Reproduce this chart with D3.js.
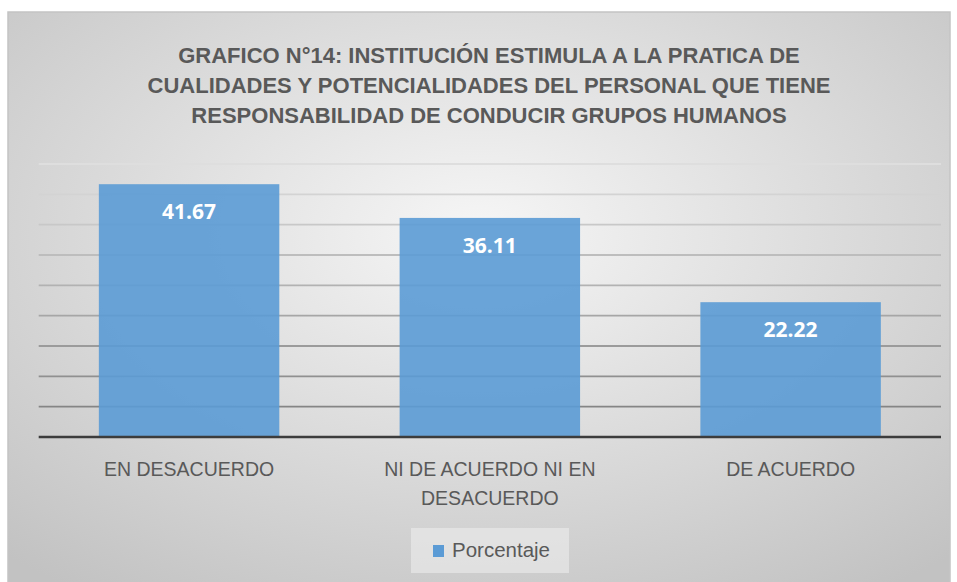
<!DOCTYPE html>
<html><head><meta charset="utf-8">
<script src="https://cdn.jsdelivr.net/npm/d3@7"></script>
<style>body{margin:0;background:#fff}svg{display:block}</style>
</head><body>
<svg id="c" width="957" height="582"></svg>
<script>
const categories = [["EN DESACUERDO"], ["NI DE ACUERDO NI EN", "DESACUERDO"], ["DE ACUERDO"]];
const values = [41.67, 36.11, 22.22];
const seriesName = "Porcentaje";
const titleLines = ["GRAFICO N°14: INSTITUCIÓN ESTIMULA A LA PRATICA DE",
  "CUALIDADES Y POTENCIALIDADES DEL PERSONAL QUE TIENE",
  "RESPONSABILIDAD DE CONDUCIR GRUPOS HUMANOS"];
const yTicks = [0,5,10,15,20,25,30,35,40,45];

const svg = d3.select("#c");
const font = "'Liberation Sans', Arial, sans-serif";
const defs = svg.append("defs");
const rg = defs.append("radialGradient").attr("id","bg").attr("cx","50%").attr("cy","38%").attr("r","75%");
rg.append("stop").attr("offset","0%").attr("stop-color","#f6f6f6");
rg.append("stop").attr("offset","100%").attr("stop-color","#c2c2c2");

svg.append("rect").attr("x",8).attr("y",12).attr("width",942).attr("height",580)
  .attr("fill","url(#bg)").attr("stroke","#c4c4c4").attr("stroke-width",1.5);

const x = d3.scaleBand().domain(d3.range(values.length)).range([38.7, 941]).paddingInner(0.4).paddingOuter(0.2);
const y = d3.scaleLinear().domain([0,45]).range([437,164]);
const gc = d3.scaleLinear().domain([5,45]).range(["#858585","#dedede"]);

// gridlines
svg.append("g").selectAll("line").data(yTicks.filter(t=>t>0)).join("line")
  .attr("x1",38.7).attr("x2",941).attr("y1",d=>y(d)).attr("y2",d=>y(d))
  .attr("stroke",d=>gc(d)).attr("stroke-width",1.8);

// bars
svg.append("g").selectAll("rect").data(values).join("rect")
  .attr("x",(d,i)=>x(i)).attr("width",x.bandwidth())
  .attr("y",d=>y(d)).attr("height",d=>y(0)-y(d))
  .attr("fill","#5b9bd5").attr("fill-opacity",0.9);

// baseline
svg.append("line").attr("x1",38.7).attr("x2",941).attr("y1",y(0)).attr("y2",y(0))
  .attr("stroke","#3c3c3c").attr("stroke-width",2.5);

// value labels
svg.append("g").selectAll("text").data(values).join("text")
  .attr("x",(d,i)=>x(i)+x.bandwidth()/2).attr("y",d=>y(d)+35)
  .attr("text-anchor","middle").attr("fill","#fff").attr("font-weight","bold")
  .attr("font-family","'Open Sans', sans-serif").attr("font-size",21)
  .text(d=>d.toFixed(2));

// category labels
const cl = svg.append("g").selectAll("text").data(categories).join("text")
  .attr("text-anchor","middle").attr("fill","#595959")
  .attr("font-family",font).attr("font-size",19.5);
cl.each(function(lines,i){
  d3.select(this).selectAll("tspan").data(lines).join("tspan")
    .attr("x",x(i)+x.bandwidth()/2).attr("y",(l,j)=>476+j*29).text(l=>l);
});

// title
svg.append("g").selectAll("text").data(titleLines).join("text")
  .attr("x",489).attr("y",(d,i)=>62.7+i*30).attr("text-anchor","middle")
  .attr("fill","#595959").attr("font-weight","bold").attr("font-family",font).attr("font-size",22)
  .text(d=>d);

// legend
const lg = svg.append("g");
lg.append("rect").attr("x",411).attr("y",528).attr("width",158).attr("height",45).attr("fill","#ececec").attr("fill-opacity",0.6);
lg.append("rect").attr("x",433).attr("y",545).attr("width",11).attr("height",12).attr("fill","#5b9bd5");
lg.append("text").attr("x",452).attr("y",557).attr("fill","#595959").attr("font-family",font).attr("font-size",20.5).text(seriesName);
</script>
</body></html>
